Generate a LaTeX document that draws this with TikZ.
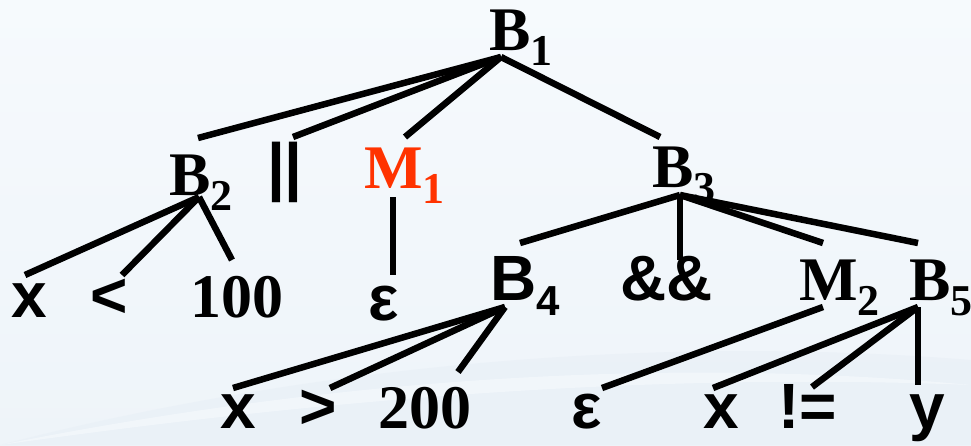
\documentclass[tikz,border=0pt]{standalone}
\usepackage{fontspec}
\setmainfont{Liberation Serif}
\setsansfont{Liberation Sans}
\definecolor{bgtop}{RGB}{246,250,253}
\definecolor{bgbot}{RGB}{238,244,249}
\definecolor{swoosh}{RGB}{233,240,247}
\definecolor{mred}{RGB}{255,51,0}
\tikzset{
  lbl/.style={anchor=base west, inner sep=0pt, outer sep=0pt},
  serif/.style={lbl, font=\fontsize{62}{62}\selectfont\rmfamily\bfseries},
  sans/.style={lbl, font=\fontsize{64}{64}\selectfont\sffamily\bfseries},
  edge/.style={line width=6.5pt, black, line cap=butt},
}
\newcommand{\sbs}[1]{\raisebox{-15pt}{\fontsize{44}{44}\selectfont\rmfamily\bfseries #1}}
\newcommand{\sbsans}[1]{\raisebox{-15pt}{\fontsize{42}{42}\selectfont\sffamily\bfseries #1}}
\begin{document}
\begin{tikzpicture}[x=1pt,y=-1pt]
\useasboundingbox (0,0) rectangle (971,445);
\shade[top color=bgtop, bottom color=bgbot] (0,0) rectangle (971,445);
% faint background swoosh
\fill[swoosh, opacity=0.7] (0,445) .. controls (250,380) and (600,330) .. (971,360) -- (971,445) -- cycle;
\fill[bgtop, opacity=0.6] (0,445) .. controls (250,395) and (600,350) .. (971,385) .. controls (600,370) and (250,410) .. (0,445) -- cycle;

% level 0 / 1
\node[serif] (B1) at (489,50) {B\sbs{1}};
\node[serif] (B2) at (169,195) {B\sbs{2}};
\node[sans]  (OR) at (267,188) {||};
\node[serif, text=mred] (M1) at (364,188) {M\sbs{1}};
\node[serif] (B3) at (652,187) {B\sbs{3}};

% level 2
\node[sans]  (x1)  at (12,317) {x};
\node[sans]  (lt)  at (90,317) {<};
\node[serif] (n100) at (190,317) {100};
\node[sans]  (eps1) at (368,320) {ε};
\node[sans]  (B4)  at (490,300) {B\sbsans{4}};
\node[sans]  (and) at (620,300) {\&\&};
\node[serif] (M2)  at (799,300) {M\sbs{2}};
\node[serif] (B5)  at (909,300) {B\sbs{5}};

% level 3
\node[sans]  (x2)  at (220,428) {x};
\node[sans]  (gt)  at (299,428) {>};
\node[serif] (n200) at (378,428) {200};
\node[sans]  (eps2) at (571,428) {ε};
\node[sans]  (x3)  at (703,428) {x};
\node[sans]  (ne)  at (778,428) {!=};
\node[sans]  (y)   at (909,428) {y};

% connector end points
\coordinate (B1-j) at (501,57);
\coordinate (B2-t) at (198,138);
\coordinate (OR-t) at (293,137);
\coordinate (M1-t) at (405,137);
\coordinate (B3-t) at (660,137);
\coordinate (B2-j) at (199,197);
\coordinate (x1-t) at (25,275);
\coordinate (lt-t) at (122,275);
\coordinate (n100-t) at (232,260);
\coordinate (M1-j) at (393,197);
\coordinate (eps1-t) at (393,275);
\coordinate (B3-j) at (680,195);
\coordinate (B4-t) at (520,243);
\coordinate (and-t) at (680,260);
\coordinate (M2-t) at (823,243);
\coordinate (B5-t) at (918,243);
\coordinate (B4-j) at (505,307);
\coordinate (x2-t) at (233,388);
\coordinate (gt-t) at (330,388);
\coordinate (n200-t) at (458,372);
\coordinate (M2-j) at (823,307);
\coordinate (eps2-t) at (602,388);
\coordinate (B5-j) at (918,307);
\coordinate (x3-t) at (713,388);
\coordinate (ne-t) at (812,387);
\coordinate (y-t) at (918,385);

\draw[edge] (B1-j) -- (B2-t);
\draw[edge] (B1-j) -- (OR-t);
\draw[edge] (B1-j) -- (M1-t);
\draw[edge] (B1-j) -- (B3-t);
\draw[edge] (B2-j) -- (x1-t);
\draw[edge] (B2-j) -- (lt-t);
\draw[edge] (B2-j) -- (n100-t);
\draw[edge] (M1-j) -- (eps1-t);
\draw[edge] (B3-j) -- (B4-t);
\draw[edge] (B3-j) -- (and-t);
\draw[edge] (B3-j) -- (M2-t);
\draw[edge] (B3-j) -- (B5-t);
\draw[edge] (B4-j) -- (x2-t);
\draw[edge] (B4-j) -- (gt-t);
\draw[edge] (B4-j) -- (n200-t);
\draw[edge] (M2-j) -- (eps2-t);
\draw[edge] (B5-j) -- (x3-t);
\draw[edge] (B5-j) -- (ne-t);
\draw[edge] (B5-j) -- (y-t);
\end{tikzpicture}
\end{document}
